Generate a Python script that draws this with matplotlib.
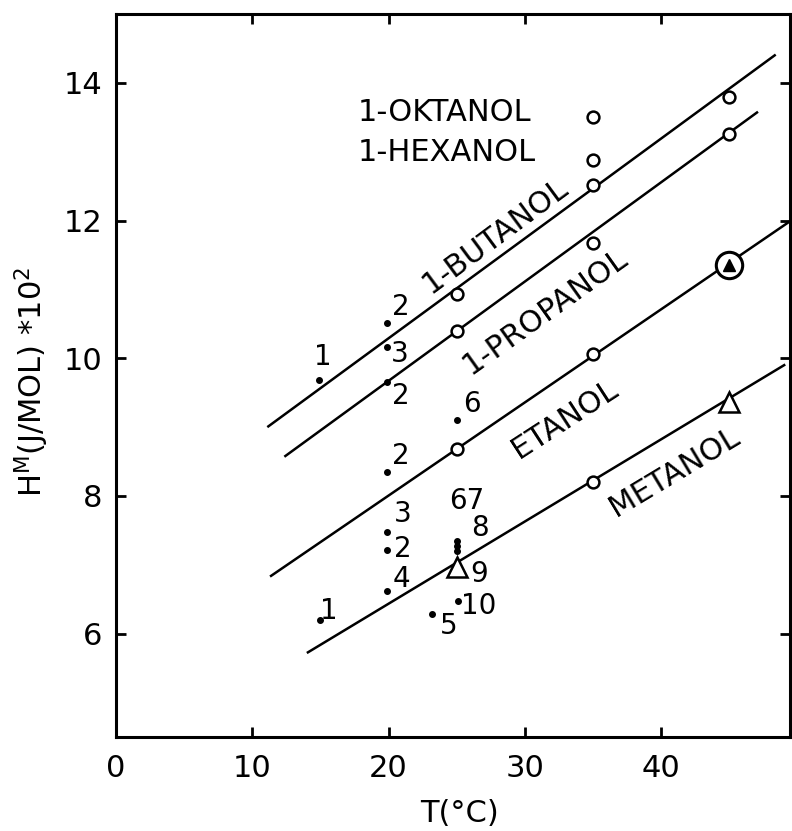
import matplotlib.pyplot as plt

# fitted lines for each alcohol (end points)
butanol_T = [11.1, 48.4]
butanol_H = [9.00, 14.41]
propanol_T = [12.35, 47.1]
propanol_H = [8.57, 13.58]
etanol_T = [11.3, 49.45]
etanol_H = [6.83, 11.99]
metanol_T = [14.0, 49.1]
metanol_H = [5.72, 9.91]

# own measurements, open circles
circle_T = [25, 35, 45, 25, 35, 45, 25, 35, 35, 35, 35]
circle_H = [10.93, 12.52, 13.80, 10.39, 11.68, 13.25, 8.68, 10.06, 8.20, 12.88, 13.51]

# open triangles (metanol) and circled triangle (etanol)
tri_T = [25, 45]
tri_H = [6.97, 9.37]
ctri_T = [45]
ctri_H = [11.36]

# literature values, small dots with reference numbers
lit_T = [14.9, 19.9, 19.9, 19.9, 19.9, 25.0, 19.9, 19.9, 19.9, 15.0, 23.2, 25.1, 25.0, 25.0, 25.0]
lit_H = [9.68, 10.51, 10.16, 9.65, 8.35, 9.10, 7.48, 7.22, 6.62, 6.20, 6.29, 6.48, 7.34, 7.27, 7.20]
lit_ref = ["1", "2", "3", "2", "2", "6", "3", "2", "4", "1", "5", "10", "67", "8", ""]
lit_off = [(4, 23), (14, 16), (12, -7), (14, -14), (14, 16), (15, 16), (15, 18), (16, 1),
           (14, 12), (8, 9), (16, -12), (21, -5), (10, 40), (23, 18), (0, 0)]

xticks = [0, 10, 20, 30, 40]
yticks = [6, 8, 10, 12, 14]

plt.rcParams['font.family'] = 'DejaVu Sans'
fig = plt.figure(figsize=(7.92, 8.31), dpi=100)
ax = fig.add_axes([0.1465, 0.1131, 0.851, 0.8701])

lw = 1.8
for T, H in [(butanol_T, butanol_H), (propanol_T, propanol_H),
             (etanol_T, etanol_H), (metanol_T, metanol_H)]:
    ax.plot(T, H, color='black', lw=lw, solid_capstyle='butt')

ax.plot(circle_T, circle_H, 'o', ms=8.5, mfc='white', mec='black', mew=1.8, ls='none')
ax.plot(tri_T, tri_H, '^', ms=14, mfc='white', mec='black', mew=1.8, ls='none')
ax.plot(ctri_T, ctri_H, 'o', ms=19, mfc='white', mec='black', mew=2.2, ls='none')
ax.plot(ctri_T, ctri_H, '^', ms=9, color='black', ls='none')
ax.plot(lit_T, lit_H, 'o', ms=4, color='black', ls='none')

for T, H, ref, off in zip(lit_T, lit_H, lit_ref, lit_off):
    if ref:
        ax.annotate(ref, (T, H), xytext=(off[0] * 0.72, off[1] * 0.72),
                    textcoords='offset points', ha='center', va='center', fontsize=20)
ax.annotate("9", (tri_T[0], tri_H[0]), xytext=(22 * 0.72, -7 * 0.72),
            textcoords='offset points', ha='center', va='center', fontsize=20)

# names of the alcohols
ax.text(17.7, 13.57, "1-OKTANOL", fontsize=22, ha='left', va='center')
ax.text(17.7, 12.99, "1-HEXANOL", fontsize=22, ha='left', va='center')
ax.text(27.8, 11.78, "1-BUTANOL", fontsize=22, rotation=36.5,
        rotation_mode='anchor', ha='center', va='center')
ax.text(31.5, 10.68, "1-PROPANOL", fontsize=22, rotation=35.5,
        rotation_mode='anchor', ha='center', va='center')
ax.text(32.9, 9.12, "ETANOL", fontsize=22, rotation=33,
        rotation_mode='anchor', ha='center', va='center')
ax.text(41.0, 8.35, "METANOL", fontsize=22, rotation=31,
        rotation_mode='anchor', ha='center', va='center')

ax.set_xlim(0, 49.45)
ax.set_ylim(4.5, 15.0)
ax.set_xticks(xticks)
ax.set_yticks(yticks)
ax.tick_params(direction='in', length=7, width=2, labelsize=22,
               top=True, right=True, labeltop=False, labelright=False)
ax.tick_params(axis='x', pad=12)
ax.tick_params(axis='y', pad=10)
for s in ax.spines.values():
    s.set_linewidth(2.2)

fig.text(459 / 792, 1 - 814 / 831, "T(°C)", fontsize=22, ha='center', va='center')
fig.text(0.04, 0.54, r"H$^{\mathregular{M}}$(J/MOL) *10$^{\mathregular{2}}$",
         fontsize=22, rotation=90, ha='center', va='center')

fig.savefig('out.png', dpi=100)
